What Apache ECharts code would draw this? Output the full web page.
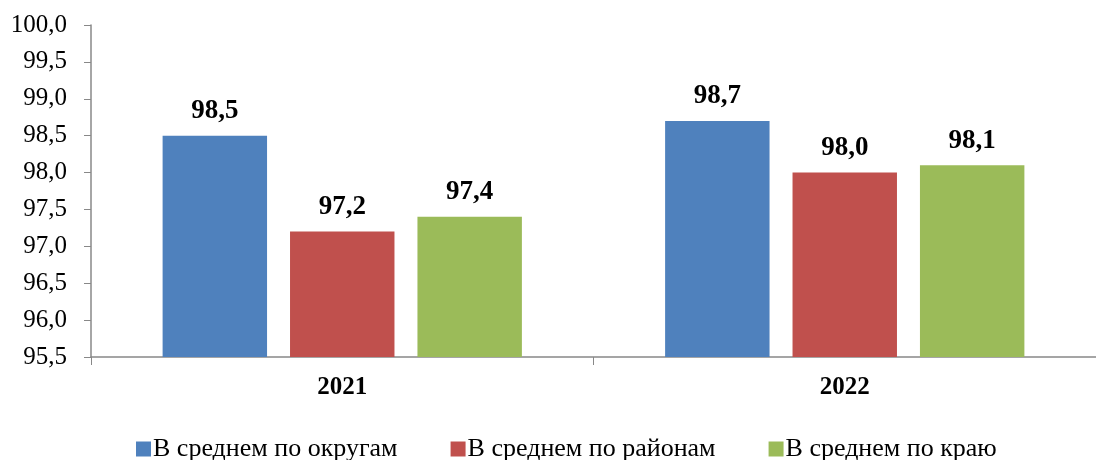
<!DOCTYPE html>
<html>
<head>
<meta charset="utf-8">
<script src="https://cdn.jsdelivr.net/npm/echarts@6/dist/echarts.min.js"></script>
<style>
  html, body { margin: 0; padding: 0; background: #fff; }
  #chart { width: 1096px; height: 460px; }
</style>
</head>
<body>
<div id="chart"></div>
<script>
// данные диаграммы
const years = ['2021', '2022'];
const okrugValues = [98.5, 98.7];
const raionValues = [97.2, 98.0];
const kraiValues = [97.4, 98.1];
const seriesNames = ['В среднем по округам', 'В среднем по районам', 'В среднем по краю'];
const colors = ['#4F81BD', '#C0504D', '#9BBB59'];

const fmt = v => v.toFixed(1).replace('.', ',');

const chart = echarts.init(document.getElementById('chart'));

function makeSeries(name, data, color) {
  return {
    name: name,
    type: 'bar',
    data: data,
    barGap: '22%',
    barCategoryGap: '28.5%',
    itemStyle: { color: color },
    label: {
      show: true,
      position: 'top',
      distance: 11,
      fontFamily: 'Liberation Serif',
      fontWeight: 'bold',
      fontSize: 27,
      color: '#000',
      formatter: p => fmt(p.value)
    }
  };
}

const option = {
  animation: false,
  textStyle: { fontFamily: 'Liberation Serif' },
  grid: { left: 91, width: 1012, top: 25, bottom: 103 },
  legend: {
    top: 431,
    left: 131,
    itemWidth: 15,
    itemHeight: 15,
    itemGap: 53,
    icon: 'rect',
    textStyle: { fontFamily: 'Liberation Serif', fontSize: 26, color: '#000', padding: [0, 0, 0, -3] },
    data: seriesNames
  },
  xAxis: {
    type: 'category',
    data: years,
    axisLine: { lineStyle: { color: '#888', width: 1.5 } },
    axisTick: { show: true, length: 8, lineStyle: { color: '#888' } },
    axisLabel: {
      fontFamily: 'Liberation Serif',
      fontWeight: 'bold',
      fontSize: 25,
      color: '#000',
      margin: 18
    }
  },
  yAxis: {
    type: 'value',
    min: 95.5,
    max: 100,
    interval: 0.5,
    axisLine: { show: true, lineStyle: { color: '#888', width: 1.5 } },
    axisTick: { show: true, length: 7, lineStyle: { color: '#888' } },
    splitLine: { show: false },
    axisLabel: {
      fontFamily: 'Liberation Serif',
      fontSize: 25,
      color: '#000',
      margin: 24,
      formatter: v => fmt(v)
    }
  },
  series: [
    makeSeries(seriesNames[0], okrugValues, colors[0]),
    makeSeries(seriesNames[1], raionValues, colors[1]),
    makeSeries(seriesNames[2], kraiValues, colors[2])
  ]
};

chart.setOption(option);
</script>
</body>
</html>
